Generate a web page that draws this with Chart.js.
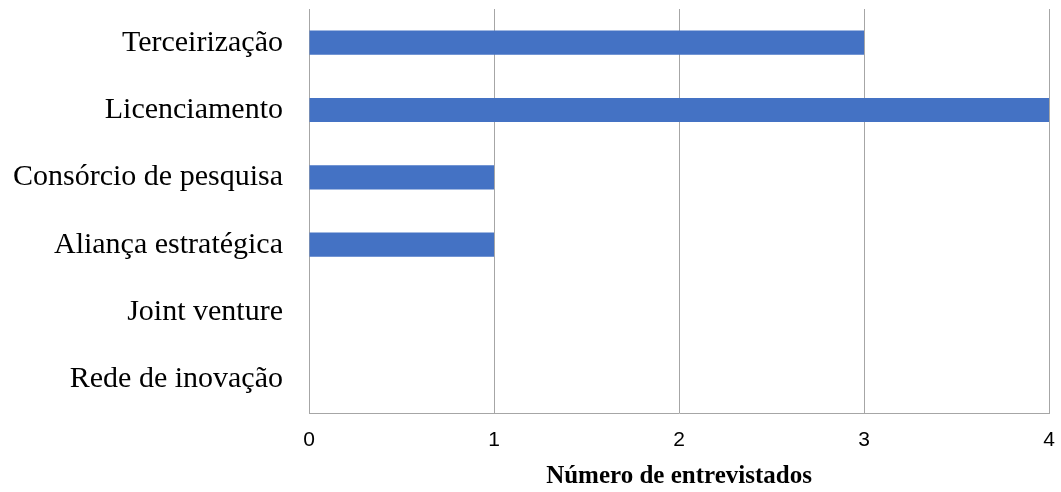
<!DOCTYPE html>
<html>
<head>
<meta charset="utf-8">
<script src="https://cdn.jsdelivr.net/npm/chart.js@4"></script>
<style>
  html, body { margin: 0; padding: 0; background: #fff; }
  #wrap { width: 1061px; height: 492px; }
</style>
</head>
<body>
<div id="wrap"><canvas id="chart" width="1061" height="492"></canvas></div>
<script>
// data
const categories = ["Terceirização", "Licenciamento", "Consórcio de pesquisa",
    "Aliança estratégica", "Joint venture", "Rede de inovação"];
const values = [3, 4, 1, 1, 0, 0];
const xTicks = [0, 1, 2, 3, 4];
const xTitle = "Número de entrevistados";

const ctx = document.getElementById("chart");
new Chart(ctx, {
    type: "bar",
    data: {
        labels: categories,
        datasets: [{
            data: values,
            backgroundColor: "#4472C4",
            categoryPercentage: 1,
            barPercentage: 0.36
        }]
    },
    options: {
        indexAxis: "y",
        responsive: false,
        animation: false,
        layout: { padding: { top: 9, right: 12, left: 0, bottom: 0 } },
        plugins: { legend: { display: false }, tooltip: { enabled: false } },
        scales: {
            x: {
                min: xTicks[0],
                max: xTicks[xTicks.length - 1],
                afterBuildTicks: function (axis) {
                    axis.ticks = xTicks.map(v => ({ value: v }));
                },
                grid: { color: "#a6a6a6", drawTicks: false },
                border: { color: "#a6a6a6" },
                ticks: {
                    padding: 15,
                    color: "#000",
                    font: { family: "Liberation Sans", size: 21 }
                },
                title: {
                    display: true,
                    text: xTitle,
                    color: "#000",
                    padding: { top: 11, bottom: 0 },
                    font: { family: "Liberation Serif", size: 25, weight: "bold" }
                },
                afterFit: function (axis) {
                    axis.height = 79;
                    axis.paddingLeft = 0;
                    axis.paddingRight = 0;
                }
            },
            y: {
                grid: { display: false, drawTicks: false },
                border: { color: "#a6a6a6" },
                ticks: {
                    padding: 26,
                    color: "#000",
                    font: { family: "Liberation Serif", size: 30 }
                },
                afterFit: function (axis) {
                    axis.width = 309;
                    axis.paddingTop = 0;
                    axis.paddingBottom = 0;
                }
            }
        }
    }
});
</script>
</body>
</html>
